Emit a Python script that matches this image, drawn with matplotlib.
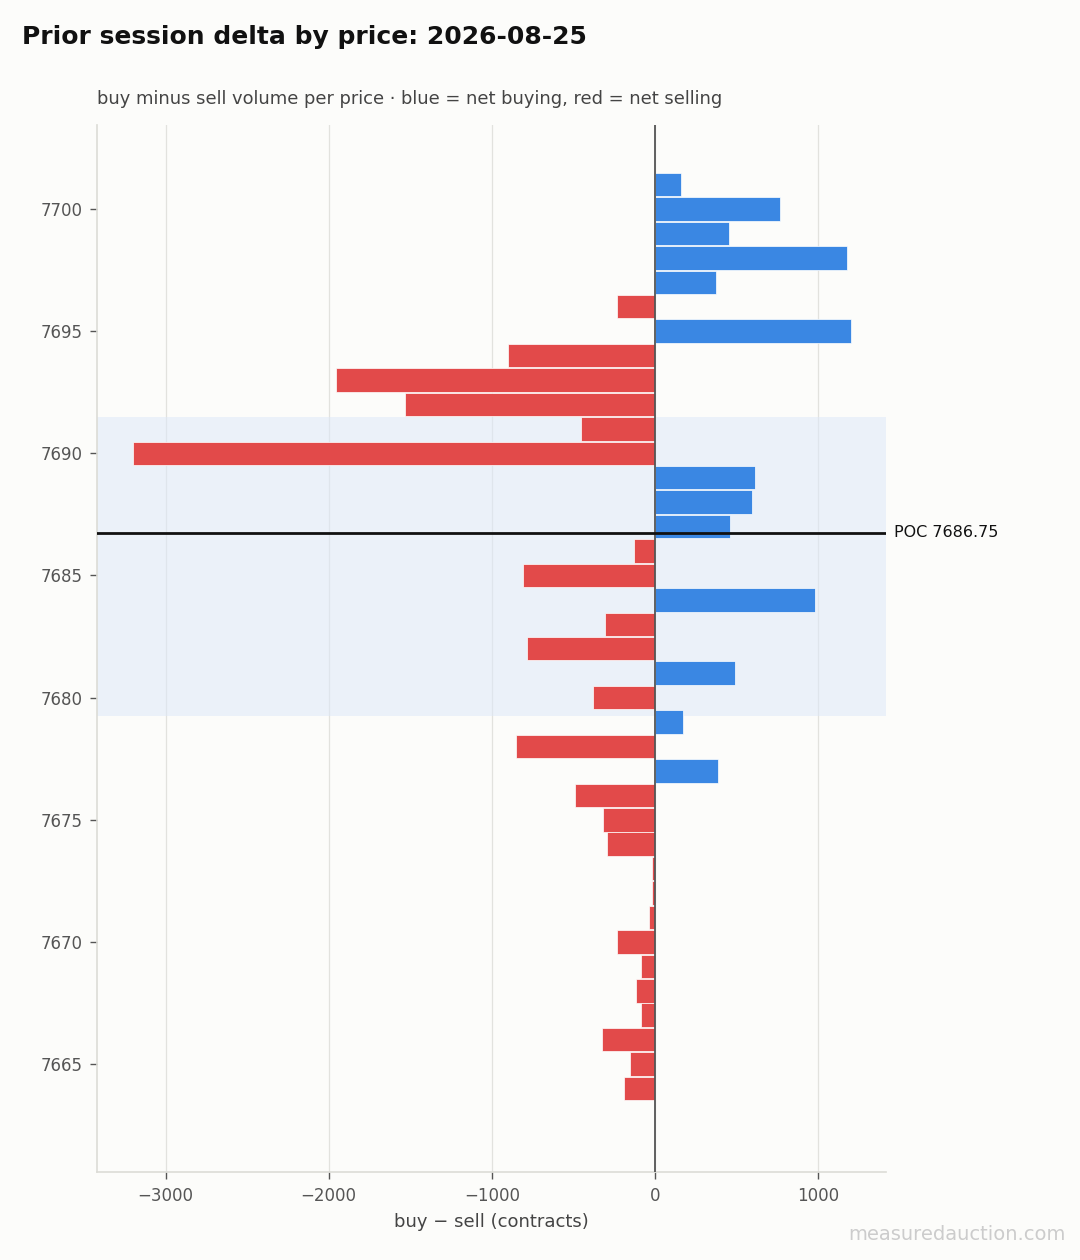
import numpy as np
import matplotlib
matplotlib.use("Agg")
import matplotlib.pyplot as plt

plt.rcParams["font.family"] = ["DejaVu Sans"]

# price levels (top to bottom) and net delta per level
prices = [7701, 7700, 7699, 7698, 7697, 7696, 7695, 7694, 7693, 7692,
          7691, 7690, 7689, 7688, 7687, 7686, 7685, 7684, 7683, 7682,
          7681, 7680, 7679, 7678, 7677, 7676, 7675, 7674, 7673, 7672,
          7671, 7670, 7669, 7668, 7667, 7666, 7665, 7664]
delta = [160, 765, 453, 1176, 374, -233, 1200, -900, -1953, -1531,
         -453, -3197, 612, 594, 459, -129, -808, 980, -306, -784,
         490, -380, 171, -851, 386, -490, -318, -294, -18, -16,
         -37, -233, -86, -116, -86, -325, -153, -190]
poc = 7686.75
va_low, va_high = 7679.25, 7691.5
session = "2026-08-25"

BG = "#fcfcfa"
BLUE = "#3a87e3"
RED = "#e24a4a"

fig = plt.figure(figsize=(10.8, 12.6), dpi=100, facecolor=BG)
ax = fig.add_axes([0.0898, 0.0698, 0.7306, 0.831])
ax.set_facecolor(BG)

colors = [BLUE if d >= 0 else RED for d in delta]
ax.barh(prices, delta, height=0.96, color=colors, edgecolor="white",
        linewidth=0.5, zorder=3)

# value area + POC
ax.axhspan(va_low, va_high, color="#dde8f9", alpha=0.55, zorder=1, lw=0)
ax.axvline(0, color="#555555", lw=1.3, zorder=4)
ax.axhline(poc, color="#111111", lw=2, zorder=5)
ax.text(1.01, poc, f"POC {poc:.2f}", transform=ax.get_yaxis_transform(),
        va="center", ha="left", fontsize=11.5, color="#111111")

ax.set_xlim(-3420, 1415)
ax.set_ylim(7660.58, 7703.44)
ax.set_xticks([-3000, -2000, -1000, 0, 1000])
ax.set_xticklabels(["\u22123000", "\u22122000", "\u22121000", "0", "1000"])
ax.set_yticks([7665, 7670, 7675, 7680, 7685, 7690, 7695, 7700])

ax.grid(axis="x", color="#e2e2de", lw=0.9, zorder=0)
ax.set_axisbelow(True)
for s in ["top", "right"]:
    ax.spines[s].set_visible(False)
for s in ["left", "bottom"]:
    ax.spines[s].set_color("#dcdcd6")
    ax.spines[s].set_linewidth(1.2)
ax.tick_params(colors="#555555", labelsize=12, length=5, width=1, pad=5.5)

ax.set_xlabel("buy \u2212 sell (contracts)", fontsize=13, color="#444444", labelpad=6)

fig.text(22 / 1080, 1 - 37 / 1260, f"Prior session delta by price: {session}",
         fontsize=18, fontweight="bold", va="center", ha="left", color="#111111")
fig.text(97 / 1080, 1 - 99 / 1260,
         "buy minus sell volume per price \u00b7 blue = net buying, red = net selling",
         fontsize=12.9, va="center", ha="left", color="#444444")
fig.text(1 - 14 / 1080, 1 - 1235 / 1260, "measuredauction.com",
         fontsize=14, va="center", ha="right", color="#cccccc")

fig.savefig("out.png", dpi=100, facecolor=BG)
